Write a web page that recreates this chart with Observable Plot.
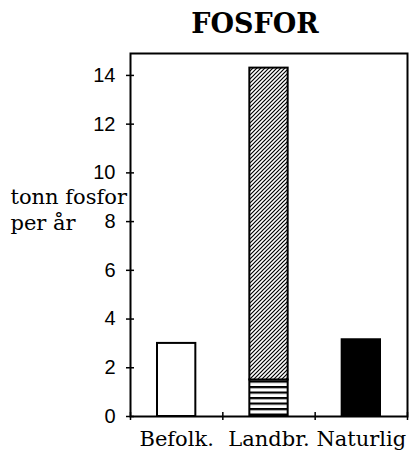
<!DOCTYPE html>
<html><head><meta charset="utf-8">
<script src="https://cdn.jsdelivr.net/npm/d3@7"></script>
<script src="https://cdn.jsdelivr.net/npm/@observablehq/plot@0.6"></script>
<style>
body{margin:0;background:#fff;color:#000;}
#title{height:45px;box-sizing:border-box;padding:9px 0 0 100px;font:bold 27px "DejaVu Serif";text-align:center;line-height:30px;}
#chart svg{display:block;}
</style></head><body>
<svg width="0" height="0" style="position:absolute"><defs>
<pattern id="diag" patternUnits="userSpaceOnUse" width="4" height="4">
<rect width="4" height="4" fill="#fff"/>
<path d="M-1,1 l2,-2 M0,4 l4,-4 M3,5 l2,-2" stroke="#000" stroke-width="1.2"/>
</pattern>
<pattern id="stripes" patternUnits="userSpaceOnUse" width="6" height="5.5">
<rect width="6" height="5.5" fill="#fff"/><rect width="6" height="2.2" fill="#000"/>
</pattern>
</defs></svg>
<div id="title"></div>
<div id="chart"></div>
<script>
const title = "FOSFOR";
const categories = ["Befolk.", "Landbr.", "Naturlig"];
const segCategory = ["Befolk.", "Landbr.", "Landbr.", "Naturlig"];
const segKind = ["befolkning", "landbruk-punkt", "landbruk-areal", "naturlig"];
const segValue = [3.0, 1.5, 12.8, 3.15];
const yTicks = [0, 2, 4, 6, 8, 10, 12, 14];
const yLabel = "tonn fosfor\nper år";

document.getElementById("title").textContent = title;

const totals = {};
const rows = segCategory.map((c, k) => {
  const i = categories.indexOf(c);
  const y1 = totals[c] || 0;
  const y2 = y1 + segValue[k];
  totals[c] = y2;
  return {cat: c, i, kind: segKind[k], y1, y2};
});

const serif = "DejaVu Serif";
const plot = Plot.plot({
  width: 410, height: 409,
  marginTop: 8, marginBottom: 38, marginLeft: 130, marginRight: 3,
  style: {background: "#fff", color: "#000", fontFamily: "Liberation Sans", fontSize: "20px"},
  x: {type: "linear", domain: [0, 3]},
  y: {domain: [0, 14.9]},
  color: {domain: segKind, range: ["#fff", "url(#stripes)", "url(#diag)", "#000"]},
  marks: [
    Plot.rect(rows, {x1: d => d.i, x2: d => d.i + 1, y1: "y1", y2: "y2", fill: "kind",
      stroke: "#000", strokeWidth: 2, insetLeft: 27, insetRight: 27}),
    Plot.frame({stroke: "#000", strokeWidth: 2}),
    Plot.axisY({ticks: yTicks, tickSize: 4, tickPadding: 11, label: null, strokeWidth: 1.5, fontSize: 20}),
    Plot.axisY({ticks: yTicks, tickSize: -4, text: null, label: null, strokeWidth: 1.5}),
    Plot.axisX({ticks: [0, 1, 2, 3], tickSize: 4, text: null, label: null, strokeWidth: 1.5}),
    Plot.axisX({ticks: [0, 1, 2, 3], tickSize: -4, text: null, label: null, strokeWidth: 1.5}),
    Plot.axisX({ticks: categories.map((c, i) => i + 0.5), tickFormat: v => categories[Math.floor(v)],
      tickSize: 0, tickPadding: 15, label: null, fontFamily: serif, fontSize: 21}),
    Plot.text([yLabel], {frameAnchor: "left", dx: -120, dy: -26, textAnchor: "start", lineAnchor: "middle",
      lineHeight: 1.2, fontFamily: serif, fontSize: 21, fill: "#000"})
  ]
});
document.getElementById("chart").appendChild(plot);
</script>
</body></html>
